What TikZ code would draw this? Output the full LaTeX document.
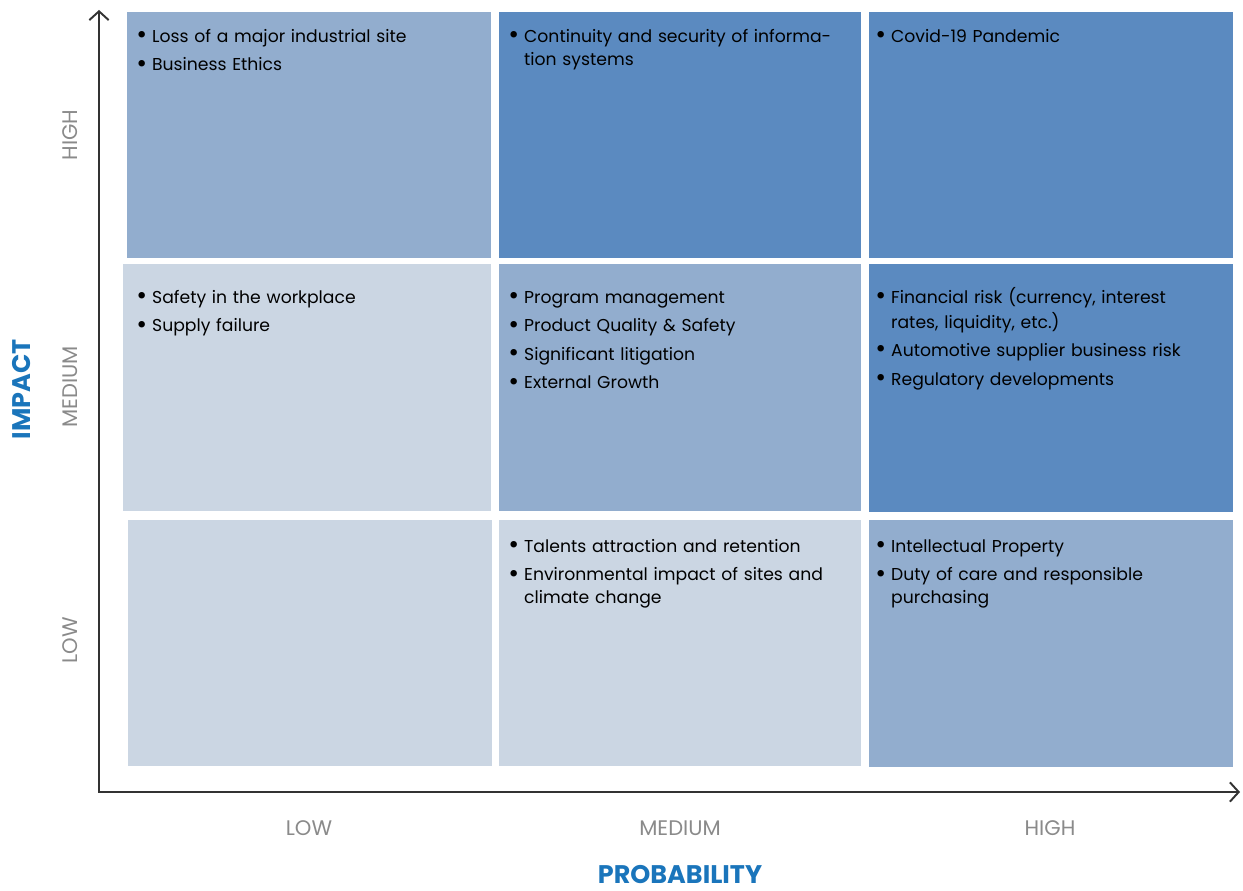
\documentclass[tikz,border=0pt]{standalone}
\usepackage{fontspec}
\setmainfont{Poppins}
\usetikzlibrary{arrows.meta}

\definecolor{riskhigh}{HTML}{5B8AC0}
\definecolor{riskmid}{HTML}{92ADCE}
\definecolor{risklow}{HTML}{CBD6E3}
\definecolor{axisblue}{HTML}{1A75BB}
\definecolor{levelgray}{HTML}{8A8A8A}
\definecolor{axisline}{HTML}{333333}

\newcommand{\riskitem}[1]{\noindent\makebox[9pt][l]{\raisebox{-0.15ex}{\fontsize{15}{13}\selectfont\textbullet}}%
  \parbox[t]{6.4cm}{\raggedright\strut #1\strut}\par\prevdepth=\dp\strutbox}

\begin{document}
\begin{tikzpicture}[x=0.02cm,y=-0.02cm,
  items/.style={anchor=north west,inner sep=0pt,text width=6.9cm,align=left,
    font=\fontsize{9.8}{13}\selectfont,text=black},
  level/.style={text=levelgray,font=\fontsize{12}{13}\selectfont},
  axistitle/.style={text=axisblue,inner sep=0pt,font=\bfseries\fontsize{14.5}{16}\selectfont},
  axis/.style={draw=axisline,line width=1.1pt,line join=miter}]
  \useasboundingbox (0,0) rectangle (1243,891);

  % cells, top row first
  \fill[riskmid]  (127,12)  rectangle (491,258);
  \fill[riskhigh] (499,12)  rectangle (861,258);
  \fill[riskhigh] (869,12)  rectangle (1233,258);
  \fill[risklow]  (123,264) rectangle (491,511);
  \fill[riskmid]  (499,264) rectangle (861,511);
  \fill[riskhigh] (869,264) rectangle (1233,512);
  \fill[risklow]  (128,520) rectangle (492,766);
  \fill[risklow]  (499,520) rectangle (861,766);
  \fill[riskmid]  (869,520) rectangle (1233,767);

  % risks
  \node[items] (t31) at (136,26) {\riskitem{Loss of a major industrial site}\vspace{3.2pt}
    \riskitem{Business Ethics}};
  \node[items] (t32) at (508,26) {\riskitem{Continuity and security of informa-\newline tion systems}};
  \node[items] (t33) at (875,26) {\riskitem{Covid-19 Pandemic}};
  \node[items] (t21) at (136,287) {\riskitem{Safety in the workplace}\vspace{3.2pt}
    \riskitem{Supply failure}};
  \node[items] (t22) at (508,287) {\riskitem{Program management}\vspace{3.2pt}
    \riskitem{Product Quality \& Safety}\vspace{3.2pt}
    \riskitem{Significant litigation}\vspace{3.2pt}
    \riskitem{External Growth}};
  \node[items] (t23) at (875,287) {\riskitem{Financial risk (currency, interest\newline rates, liquidity, etc.)}\vspace{3.2pt}
    \riskitem{Automotive supplier business risk}\vspace{3.2pt}
    \riskitem{Regulatory developments}};
  \node[items] (t12) at (508,536) {\riskitem{Talents attraction and retention}\vspace{3.2pt}
    \riskitem{Environmental impact of sites and\newline climate change}};
  \node[items] (t13) at (875,536) {\riskitem{Intellectual Property}\vspace{3.2pt}
    \riskitem{Duty of care and responsible\newline purchasing}};

  % axes
  \coordinate (origin) at (99,792);
  \coordinate (ytip) at (99,10);
  \coordinate (xtip) at (1240,792);
  \draw[axis,{Straight Barb[length=5pt,width=11pt]}-{Straight Barb[length=5pt,width=11pt]}]
    (ytip) -- (origin) -- (xtip);

  % levels
  \node[level,rotate=90] (yhigh) at (70,135) {HIGH};
  \node[level,rotate=90] (ymed)  at (70,387) {MEDIUM};
  \node[level,rotate=90] (ylow)  at (70,640) {LOW};
  \node[level] (xlow)  at (309,828) {LOW};
  \node[level] (xmed)  at (680,828) {MEDIUM};
  \node[level] (xhigh) at (1050,828) {HIGH};

  \node[axistitle,rotate=90] (impact) at (22,389) {IMPACT};
  \node[axistitle] (prob) at (680,875) {PROBABILITY};
\end{tikzpicture}
\end{document}
